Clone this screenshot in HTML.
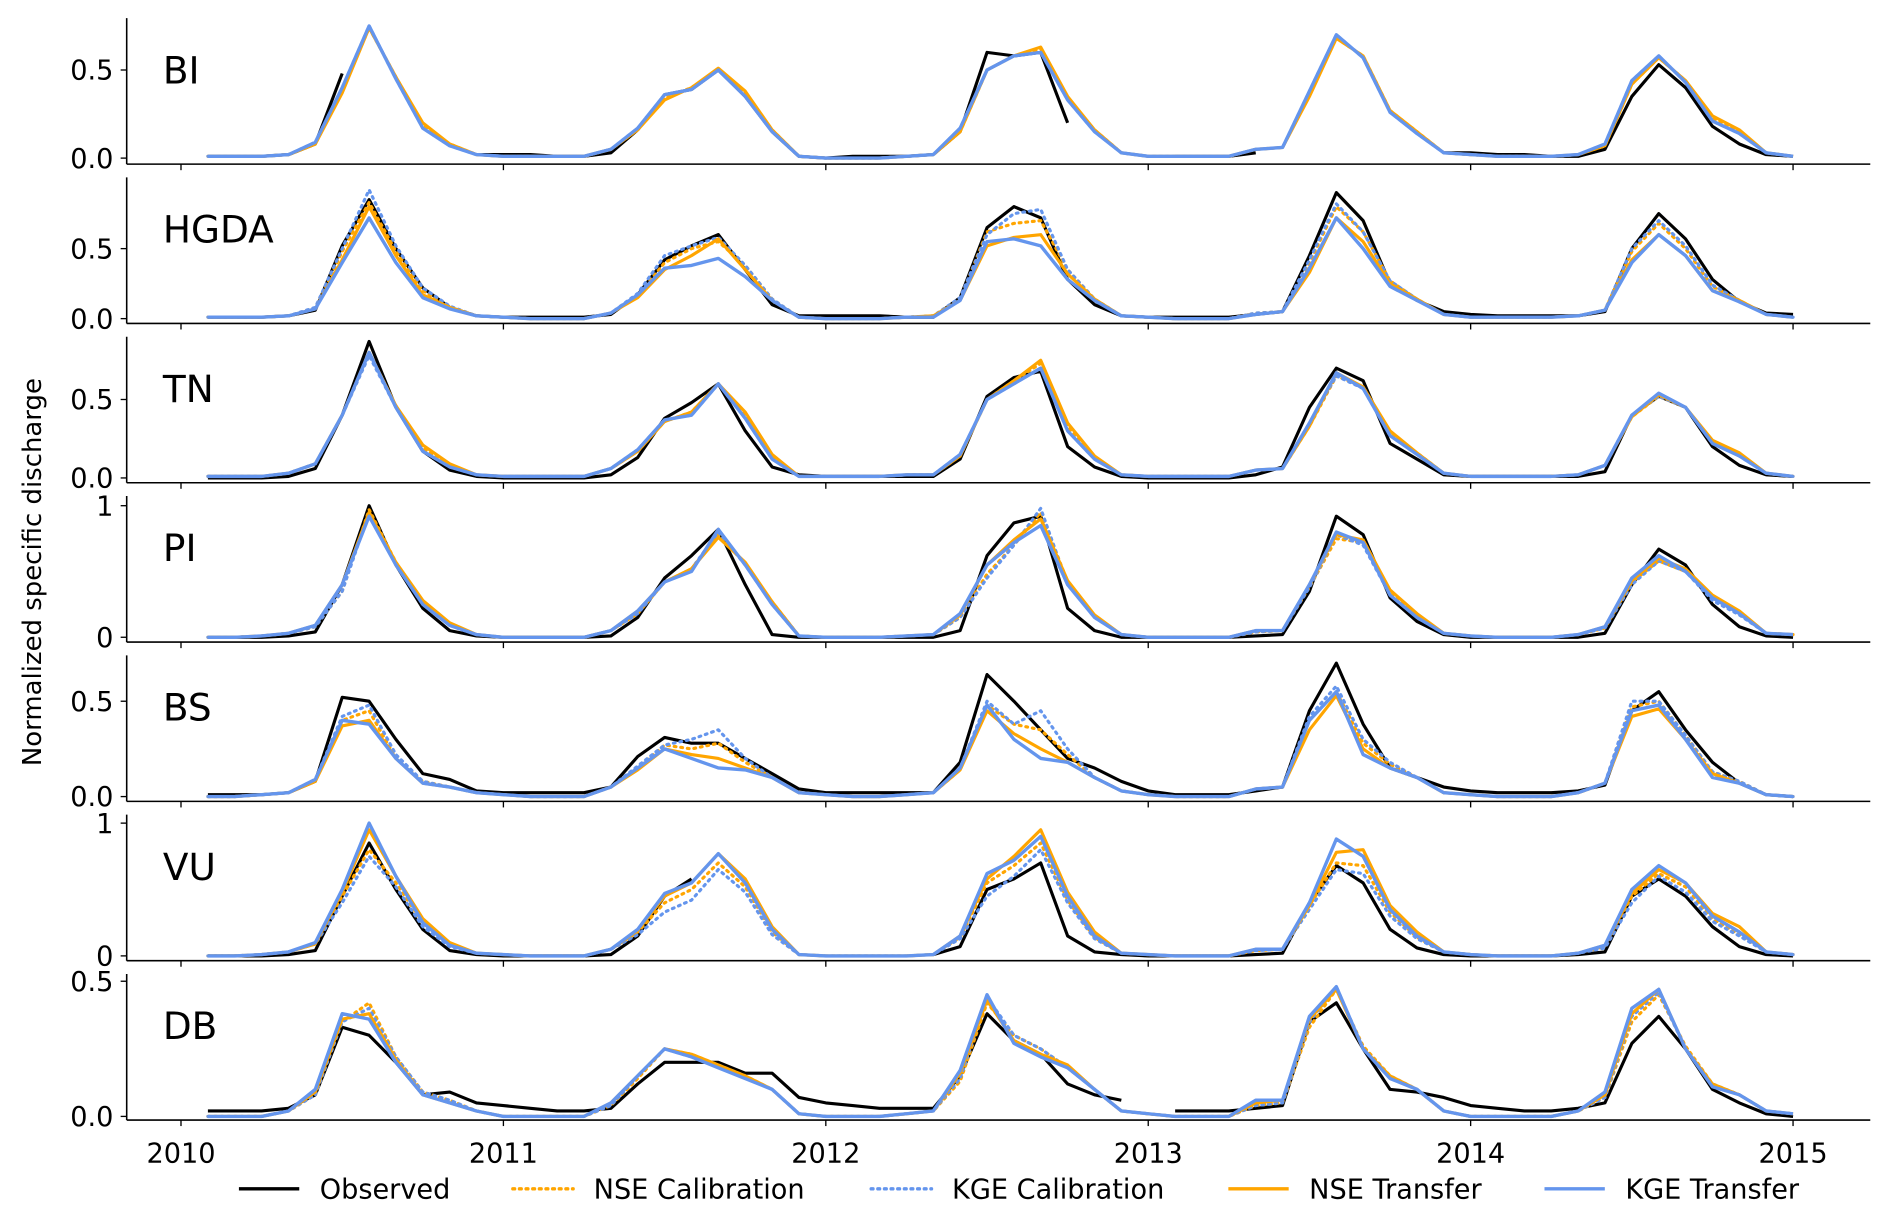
<!DOCTYPE html>
<html><head><meta charset="utf-8"><style>
html,body{margin:0;padding:0;background:#fff;}
svg{display:block;font-family:"DejaVu Sans","Liberation Sans",sans-serif;}
</style></head><body>
<svg id="chart" width="1892" height="1219" viewBox="0 0 1568 1010" preserveAspectRatio="none" xmlns="http://www.w3.org/2000/svg">
<text x="0" y="0" transform="translate(34,474) rotate(-90)" text-anchor="middle" font-size="21.5">Normalized specific discharge</text>
<g id="plots"></g>
<g id="legend"></g>
</svg>
<script>
const years = ["2010","2011","2012","2013","2014","2015"];
const panels = ["BI","HGDA","TN","PI","BS","VU","DB"];
const seriesNames = ["Observed","NSE Calibration","KGE Calibration","NSE Transfer","KGE Transfer"];
const n = null;
const BI_obs=[.01,.01,.01,.02,.08,.48,n,n,n,n,.02,.02, .02,.01,.01,.03,.16,.36,.39,.50,.35,.15,.01,.0, .01,.01,.01,.02,.15,.60,.58,.60,.20,n,n,n, .01,.01,.01,.03,n,n,n,n,n,n,.03,.03, .02,.02,.01,.01,.05,.35,.53,.40,.18,.08,.02,.01];
const BI_nseC=[.01,.01,.01,.02,.08,.38,.74,.46,.19,.08,.02,.01, .01,.01,.01,.05,.16,.34,.40,.50,.37,.16,.01,.0, .0,.0,.01,.02,.15,.50,.58,.62,.34,.16,.03,.01, .01,.01,.01,.05,.06,.36,.68,.58,.27,.15,.03,.02, .01,.01,.01,.02,.07,.42,.57,.44,.23,.15,.03,.01];
const BI_kgeC=[.01,.01,.01,.02,.09,.40,.75,.45,.17,.07,.02,.01, .01,.01,.01,.05,.17,.36,.39,.50,.35,.15,.01,.0, .0,.0,.01,.02,.17,.50,.58,.60,.33,.15,.03,.01, .01,.01,.01,.05,.06,.38,.70,.57,.26,.14,.03,.02, .01,.01,.01,.02,.08,.44,.58,.43,.21,.14,.03,.01];
const BI_nseT=[.01,.01,.01,.02,.08,.37,.74,.46,.20,.08,.02,.01, .01,.01,.01,.05,.16,.33,.40,.51,.38,.16,.01,.0, .0,.0,.01,.02,.15,.50,.58,.63,.35,.16,.03,.01, .01,.01,.01,.05,.06,.35,.68,.58,.27,.15,.03,.02, .01,.01,.01,.02,.07,.42,.57,.44,.24,.16,.03,.01];
const BI_kgeT=[.01,.01,.01,.02,.09,.40,.75,.45,.17,.07,.02,.01, .01,.01,.01,.05,.17,.36,.39,.50,.35,.15,.01,.0, .0,.0,.01,.02,.17,.50,.58,.60,.33,.15,.03,.01, .01,.01,.01,.05,.06,.38,.70,.57,.26,.14,.03,.02, .01,.01,.01,.02,.08,.44,.58,.43,.21,.14,.03,.01];

const HG_obs=[.01,.01,.01,.02,.06,.52,.85,.50,.22,.08,.02,.01, .01,.01,.01,.03,.17,.42,.52,.60,.35,.10,.02,.02, .02,.02,.01,.01,.15,.65,.80,.72,.28,.10,.02,.01, .01,.01,.01,.03,.05,.45,.90,.70,.25,.13,.05,.03, .02,.02,.02,.02,.05,.50,.75,.57,.28,.12,.04,.03];
const HG_nseC=[.01,.01,.01,.02,.07,.48,.83,.48,.20,.08,.02,.01, .0,.0,.0,.04,.16,.40,.50,.55,.38,.14,.01,.0, .0,.0,.01,.02,.14,.62,.68,.70,.35,.14,.02,.01, .0,.0,.0,.04,.05,.40,.80,.62,.27,.14,.03,.01, .01,.01,.01,.02,.06,.48,.68,.50,.23,.13,.03,.01];
const HG_kgeC=[.01,.01,.01,.02,.08,.50,.92,.52,.22,.09,.02,.01, .0,.0,.0,.04,.18,.45,.52,.58,.38,.14,.01,.0, .0,.0,.01,.02,.15,.60,.75,.78,.35,.14,.02,.01, .0,.0,.0,.04,.05,.42,.82,.62,.27,.14,.03,.01, .01,.01,.01,.02,.06,.50,.70,.52,.24,.13,.03,.01];
const HG_nseT=[.01,.01,.01,.02,.07,.42,.80,.45,.17,.08,.02,.01, .0,.0,.0,.04,.15,.35,.45,.57,.35,.13,.01,.0, .0,.0,.01,.02,.13,.52,.58,.60,.32,.14,.02,.01, .0,.0,.0,.03,.05,.33,.72,.55,.25,.14,.03,.01, .01,.01,.01,.02,.06,.42,.60,.45,.20,.13,.03,.01];
const HG_kgeT=[.01,.01,.01,.02,.07,.40,.72,.40,.15,.07,.02,.01, .0,.0,.0,.04,.17,.36,.38,.43,.30,.13,.01,.0, .0,.0,.01,.01,.13,.55,.57,.52,.28,.13,.02,.01, .0,.0,.0,.03,.05,.36,.72,.50,.23,.13,.03,.01, .01,.01,.01,.02,.06,.40,.60,.45,.20,.12,.03,.01];

const TN_obs=[.0,.0,.0,.01,.06,.40,.87,.45,.17,.05,.01,.0, .0,.0,.0,.02,.13,.38,.48,.60,.30,.07,.02,.01, .01,.01,.01,.01,.12,.52,.64,.68,.20,.07,.01,.0, .0,.0,.0,.02,.07,.45,.70,.62,.22,.12,.02,.01, .01,.01,.01,.01,.04,.40,.52,.45,.20,.08,.02,.01];
const TN_nseC=[.01,.01,.01,.03,.09,.40,.80,.46,.19,.08,.02,.01, .01,.01,.01,.06,.17,.36,.42,.60,.40,.14,.01,.01, .01,.01,.02,.02,.14,.50,.62,.73,.33,.13,.02,.01, .01,.01,.01,.05,.06,.33,.65,.58,.29,.16,.03,.01, .01,.01,.01,.02,.08,.39,.52,.45,.23,.15,.03,.01];
const TN_kgeC=[.01,.01,.01,.03,.09,.40,.78,.45,.17,.07,.02,.01, .01,.01,.01,.06,.18,.37,.40,.60,.38,.12,.01,.01, .01,.01,.02,.02,.15,.50,.60,.70,.30,.12,.02,.01, .01,.01,.01,.05,.06,.35,.65,.57,.27,.15,.03,.01, .01,.01,.01,.02,.08,.40,.52,.45,.22,.14,.03,.01];
const TN_nseT=[.01,.01,.01,.03,.09,.40,.80,.46,.21,.09,.02,.01, .01,.01,.01,.06,.17,.36,.42,.60,.42,.15,.01,.01, .01,.01,.02,.02,.14,.50,.62,.75,.35,.14,.02,.01, .01,.01,.01,.05,.06,.33,.67,.58,.30,.16,.03,.01, .01,.01,.01,.02,.08,.39,.53,.45,.24,.16,.03,.01];
const TN_kgeT=[.01,.01,.01,.03,.09,.40,.80,.45,.17,.07,.02,.01, .01,.01,.01,.06,.18,.37,.40,.60,.38,.12,.01,.01, .01,.01,.02,.02,.15,.50,.60,.70,.30,.12,.02,.01, .01,.01,.01,.05,.06,.35,.67,.57,.27,.15,.03,.01, .01,.01,.01,.02,.08,.40,.54,.45,.22,.14,.03,.01];

const PI_obs=[.0,.0,.0,.01,.04,.40,1.0,.55,.22,.05,.01,.0, .0,.0,.0,.01,.15,.45,.62,.82,.40,.02,.0,.0, .0,.0,.0,.0,.05,.62,.87,.92,.22,.05,.0,.0, .0,.0,.0,.01,.02,.35,.92,.78,.30,.12,.02,.0, .0,.0,.0,.0,.03,.40,.67,.55,.25,.08,.01,.0];
const PI_nseC=[.0,.0,.01,.03,.08,.35,.97,.57,.27,.10,.02,.0, .0,.0,.0,.05,.18,.42,.52,.78,.56,.27,.01,.0, .0,.0,.01,.02,.15,.48,.70,.95,.42,.16,.02,.0, .0,.0,.0,.04,.05,.38,.75,.72,.33,.16,.03,.01, .0,.0,.0,.02,.07,.42,.58,.50,.30,.18,.03,.02];
const PI_kgeC=[.0,.0,.01,.03,.08,.35,.95,.55,.25,.09,.02,.0, .0,.0,.0,.05,.18,.42,.52,.80,.55,.25,.01,.0, .0,.0,.01,.02,.15,.45,.70,.98,.40,.15,.02,.0, .0,.0,.0,.04,.05,.38,.78,.70,.32,.15,.03,.01, .0,.0,.0,.02,.07,.40,.58,.50,.28,.17,.03,.02];
const PI_nseT=[.0,.0,.01,.03,.09,.40,.95,.57,.28,.11,.02,.0, .0,.0,.0,.05,.20,.42,.52,.76,.57,.27,.01,.0, .0,.0,.01,.02,.17,.55,.74,.90,.43,.17,.02,.0, .0,.0,.0,.05,.05,.40,.78,.74,.36,.18,.03,.01, .0,.0,.0,.02,.08,.43,.60,.52,.32,.20,.03,.02];
const PI_kgeT=[.0,.0,.01,.03,.09,.40,.92,.55,.25,.09,.02,.0, .0,.0,.0,.05,.20,.42,.50,.82,.55,.25,.01,.0, .0,.0,.01,.02,.18,.55,.72,.85,.40,.15,.02,.0, .0,.0,.0,.05,.05,.40,.80,.72,.32,.15,.03,.01, .0,.0,.0,.02,.08,.45,.62,.50,.30,.18,.03,.02];

const BS_obs=[.01,.01,.01,.02,.08,.52,.50,.30,.12,.09,.03,.02, .02,.02,.02,.05,.21,.31,.28,.28,.20,.12,.04,.02, .02,.02,.02,.02,.18,.64,.50,.35,.20,.15,.08,.03, .01,.01,.01,.03,.05,.45,.70,.38,.15,.10,.05,.03, .02,.02,.02,.03,.06,.45,.55,.35,.18,.07,.01,.0];
const BS_nseC=[.0,.0,.01,.02,.08,.40,.45,.20,.08,.05,.02,.01, .0,.0,.0,.05,.15,.27,.25,.28,.18,.10,.02,.01, .0,.0,.01,.02,.14,.48,.38,.35,.22,.10,.03,.01, .0,.0,.0,.04,.05,.40,.55,.28,.17,.10,.02,.01, .0,.0,.0,.02,.07,.47,.50,.32,.13,.08,.01,.0];
const BS_kgeC=[.0,.0,.01,.02,.09,.42,.48,.22,.08,.05,.02,.01, .0,.0,.0,.05,.16,.27,.30,.35,.20,.10,.02,.01, .0,.0,.01,.02,.15,.50,.38,.45,.25,.10,.03,.01, .0,.0,.0,.04,.05,.42,.58,.30,.18,.10,.02,.01, .0,.0,.0,.02,.07,.50,.50,.32,.13,.08,.01,.0];
const BS_nseT=[.0,.0,.01,.02,.08,.37,.40,.20,.07,.05,.02,.01, .0,.0,.0,.05,.14,.25,.22,.20,.15,.10,.02,.01, .0,.0,.01,.02,.14,.45,.33,.25,.18,.10,.03,.01, .0,.0,.0,.04,.05,.35,.53,.25,.15,.10,.02,.01, .0,.0,.0,.02,.07,.42,.46,.30,.12,.07,.01,.0];
const BS_kgeT=[.0,.0,.01,.02,.09,.40,.38,.20,.07,.05,.02,.01, .0,.0,.0,.05,.15,.25,.20,.15,.14,.10,.02,.01, .0,.0,.01,.02,.15,.48,.30,.20,.18,.10,.03,.01, .0,.0,.0,.04,.05,.40,.55,.22,.15,.10,.02,.01, .0,.0,.0,.02,.07,.45,.48,.30,.10,.07,.01,.0];

const VU_obs=[.0,.0,.0,.01,.04,.45,.85,.50,.20,.04,.01,.0, .0,.0,.0,.01,.15,.45,.58,n,n,n,n,n, n,n,n,.01,.07,.50,.58,.70,.15,.03,.01,.0, .0,.0,.0,.01,.02,.40,.68,.55,.20,.06,.01,.0, .0,.0,.0,.01,.03,.45,.58,.45,.22,.07,.01,.0];
const VU_nseC=[.0,.0,.01,.03,.09,.45,.80,.55,.25,.08,.02,.01, .0,.0,.0,.05,.18,.40,.50,.70,.52,.18,.01,.0, .0,.0,.0,.01,.14,.55,.68,.85,.42,.14,.02,.01, .0,.0,.0,.04,.05,.38,.70,.68,.33,.14,.03,.01, .0,.0,.0,.02,.07,.45,.62,.52,.28,.16,.03,.01];
const VU_kgeC=[.0,.0,.01,.03,.09,.40,.75,.52,.22,.07,.02,.01, .0,.0,.0,.05,.16,.33,.42,.65,.48,.16,.01,.0, .0,.0,.0,.01,.13,.45,.60,.80,.40,.13,.02,.01, .0,.0,.0,.04,.05,.35,.65,.62,.30,.13,.03,.01, .0,.0,.0,.02,.06,.40,.60,.48,.26,.15,.03,.01];
const VU_nseT=[.0,.0,.01,.03,.09,.48,.95,.60,.28,.10,.02,.01, .0,.0,.0,.05,.19,.45,.55,.77,.58,.22,.01,.0, .0,.0,.0,.01,.15,.58,.75,.95,.48,.18,.02,.01, .0,.0,.0,.05,.05,.38,.78,.80,.38,.18,.03,.01, .0,.0,.0,.02,.08,.47,.65,.55,.32,.22,.03,.01];
const VU_kgeT=[.0,.0,.01,.03,.10,.50,1.0,.60,.25,.08,.02,.01, .0,.0,.0,.05,.20,.47,.55,.77,.55,.20,.01,.0, .0,.0,.0,.01,.15,.62,.72,.90,.45,.15,.02,.01, .0,.0,.0,.05,.05,.40,.88,.75,.35,.15,.03,.01, .0,.0,.0,.02,.08,.50,.68,.55,.30,.18,.03,.01];

const DB_obs=[.02,.02,.02,.03,.08,.33,.30,.20,.08,.09,.05,.04, .03,.02,.02,.03,.12,.20,.20,.20,.16,.16,.07,.05, .04,.03,.03,.03,.15,.38,.28,.23,.12,.08,.06,n, .02,.02,.02,.03,.04,.35,.42,.25,.10,.09,.07,.04, .03,.02,.02,.03,.05,.27,.37,.25,.10,.05,.01,.0];
const DB_nseC=[.0,.0,.0,.02,.08,.35,.42,.22,.09,.06,.02,.0, .0,.0,.0,.04,.14,.25,.23,.19,.15,.10,.01,.0, .0,.0,.01,.02,.13,.42,.30,.25,.18,.10,.02,.01, .0,.0,.0,.04,.05,.33,.47,.26,.15,.10,.02,.0, .0,.0,.0,.02,.07,.35,.45,.26,.12,.08,.02,.01];
const DB_kgeC=[.0,.0,.0,.02,.08,.35,.40,.22,.09,.06,.02,.0, .0,.0,.0,.04,.15,.25,.22,.19,.15,.10,.01,.0, .0,.0,.01,.02,.14,.44,.30,.25,.18,.10,.02,.01, .0,.0,.0,.04,.05,.35,.48,.25,.15,.10,.02,.0, .0,.0,.0,.02,.07,.37,.46,.25,.12,.08,.02,.01];
const DB_nseT=[.0,.0,.0,.02,.09,.36,.38,.21,.08,.05,.02,.0, .0,.0,.0,.05,.15,.25,.23,.19,.15,.10,.01,.0, .0,.0,.01,.02,.16,.43,.28,.23,.19,.10,.02,.01, .0,.0,.0,.05,.06,.36,.47,.25,.15,.10,.02,.0, .0,.0,.0,.02,.08,.38,.47,.25,.12,.08,.02,.01];
const DB_kgeT=[.0,.0,.0,.02,.10,.38,.36,.20,.08,.05,.02,.0, .0,.0,.0,.05,.15,.25,.22,.18,.14,.10,.01,.0, .0,.0,.01,.02,.17,.45,.27,.22,.18,.10,.02,.01, .0,.0,.0,.06,.06,.37,.48,.25,.14,.10,.02,.0, .0,.0,.0,.02,.09,.40,.47,.25,.11,.08,.02,.01];

const panelSeries = [
 [BI_obs,BI_nseC,BI_kgeC,BI_nseT,BI_kgeT],
 [HG_obs,HG_nseC,HG_kgeC,HG_nseT,HG_kgeT],
 [TN_obs,TN_nseC,TN_kgeC,TN_nseT,TN_kgeT],
 [PI_obs,PI_nseC,PI_kgeC,PI_nseT,PI_kgeT],
 [BS_obs,BS_nseC,BS_kgeC,BS_nseT,BS_kgeT],
 [VU_obs,VU_nseC,VU_kgeC,VU_nseT,VU_kgeT],
 [DB_obs,DB_nseC,DB_kgeC,DB_nseT,DB_kgeT]
];
const yTickVals = [[0,0.5],[0,0.5],[0,0.5],[0,1],[0,0.5],[0,1],[0,0.5]];
const yTickLabels = [["0.0","0.5"],["0.0","0.5"],["0.0","0.5"],["0","1"],["0.0","0.5"],["0","1"],["0.0","0.5"]];

const axLeft=105, axRight=1550, panelStep=132, firstTop=15, firstBottom=136;
const zeroOff=[5,4,4,4,4,4,3];
const unitPx=[146,116,130,109,158,110,224];
const colors=["#000000","#FFA500","#6495ED","#FFA500","#6495ED"];
const dashes=[null,"1.5 4","1.5 4",null,null];
const widths=[2.6,2.6,2.6,2.6,2.8];
const seriesKeys=["observed","nse-calibration","kge-calibration","nse-transfer","kge-transfer"];
const NS="http://www.w3.org/2000/svg";
function xScale(monthIdx){ return 150 + (monthIdx+1)*(1336/60); }
function xYear(k){ return 150 + k*267.2; }
function mk(tag,attrs){const e=document.createElementNS(NS,tag);for(const k in attrs)e.setAttribute(k,attrs[k]);return e;}
const plots=document.getElementById('plots');
panels.forEach((name,p)=>{
  const bottom=firstBottom+p*panelStep, top=firstTop+p*panelStep;
  const y0=bottom-zeroOff[p];
  const yScale=v=>y0-v*unitPx[p];
  const g=mk('g',{});
  
  
  plots.appendChild(g);
  const ls=mk('line',{x1:axLeft,y1:top,x2:axLeft,y2:bottom,stroke:'#000','stroke-width':1.3});
  
  
  g.appendChild(ls);
  const bs=mk('line',{x1:axLeft,y1:bottom,x2:axRight,y2:bottom,stroke:'#000','stroke-width':1.3});
  
  
  g.appendChild(bs);
  years.forEach((yr,k)=>{
    const t=mk('line',{x1:xYear(k),y1:bottom,x2:xYear(k),y2:bottom+5,stroke:'#000','stroke-width':1.1});
    
    
    g.appendChild(t);
    if(p===panels.length-1){
      const tl=mk('text',{x:xYear(k),y:bottom+35,'text-anchor':'middle','font-size':22.5});
      tl.textContent=yr;
      
      
      g.appendChild(tl);
    }
  });
  yTickVals[p].forEach((v,j)=>{
    const y=yScale(v);
    const t=mk('line',{x1:axLeft-5,y1:y,x2:axLeft,y2:y,stroke:'#000','stroke-width':1.1});
    
    
    g.appendChild(t);
    const tl=mk('text',{x:axLeft-11,y:y+8,'text-anchor':'end','font-size':22.5});
    tl.textContent=yTickLabels[p][j];
    
    
    g.appendChild(tl);
  });
  const lbl=mk('text',{x:135,y:top+54,'font-size':31});
  lbl.textContent=name;
  
  
  g.appendChild(lbl);
  panelSeries[p].forEach((arr,s)=>{
    let d='',pen=false;
    arr.forEach((v,i)=>{
      if(v===null){pen=false;return;}
      d+=(pen?'L':'M')+xScale(i).toFixed(1)+' '+yScale(v).toFixed(1)+' ';
      pen=true;
    });
    const path=mk('path',{d:d,fill:'none',stroke:colors[s],'stroke-width':widths[s],'stroke-linejoin':'round','stroke-linecap':dashes[s]?'round':'butt'});
    if(dashes[s])path.setAttribute('stroke-dasharray',dashes[s]);
    
    
    g.appendChild(path);
  });
});
const legendX=[198,425,722,1018,1280];
const lg=document.getElementById('legend');
seriesNames.forEach((nm,s)=>{
  const it=mk('g',{});
  
  
  const l=mk('line',{x1:legendX[s],y1:985,x2:legendX[s]+50,y2:985,stroke:colors[s],'stroke-width':2.8,'stroke-linecap':dashes[s]?'round':'butt'});
  if(dashes[s])l.setAttribute('stroke-dasharray',dashes[s]);
  it.appendChild(l);
  const t=mk('text',{x:legendX[s]+67,y:993,'font-size':22.5});
  t.textContent=nm;
  it.appendChild(t);
  lg.appendChild(it);
});
</script>
</body></html>
